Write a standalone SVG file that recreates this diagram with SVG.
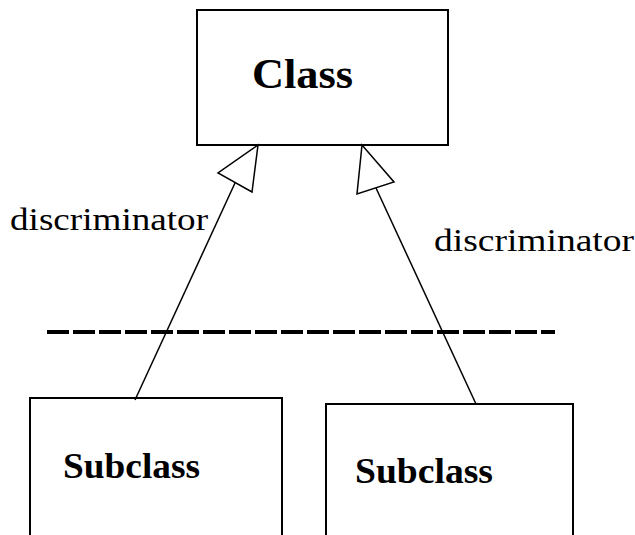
<svg xmlns="http://www.w3.org/2000/svg" width="635" height="535" viewBox="0 0 635 535">
<style>
.box{fill:#fff;stroke:#000;stroke-width:2}
.bold{font-family:'Liberation Serif',serif;font-weight:700;fill:#000}
.lbl{font-family:'Liberation Serif',serif;fill:#000;font-size:32px}
.edge{fill:none;stroke:#000;stroke-width:1.5}
.head{fill:#fff;stroke:#000;stroke-width:1.5}
</style>
<rect width="635" height="535" fill="#fff"/>
<g id="class">
<rect class="box" x="197" y="10" width="251" height="135"/>
<text class="bold" x="252" y="88" font-size="42" textLength="101" lengthAdjust="spacingAndGlyphs">Class</text>
</g>
<g id="subclass1">
<rect class="box" x="30" y="398" width="252" height="140"/>
<text class="bold" x="63" y="478" font-size="36" textLength="137" lengthAdjust="spacingAndGlyphs">Subclass</text>
</g>
<g id="subclass2">
<rect class="box" x="326" y="404" width="247" height="140"/>
<text class="bold" x="355" y="483" font-size="36" textLength="138" lengthAdjust="spacingAndGlyphs">Subclass</text>
</g>
<g id="connectors">
<line x1="47" y1="332" x2="555" y2="332" stroke="#000" stroke-width="4" stroke-dasharray="22 4"/>
<line class="edge" x1="135" y1="400" x2="235" y2="183"/>
<polygon class="head" points="258,145 218,173 252,192"/>
<line class="edge" x1="476" y1="404" x2="376" y2="188"/>
<polygon class="head" points="362,145 357,194 394,182"/>
</g>
<text class="lbl" x="10" y="230" textLength="198" lengthAdjust="spacingAndGlyphs">discriminator</text>
<text class="lbl" x="434" y="251" textLength="200" lengthAdjust="spacingAndGlyphs">discriminator</text>
</svg>
